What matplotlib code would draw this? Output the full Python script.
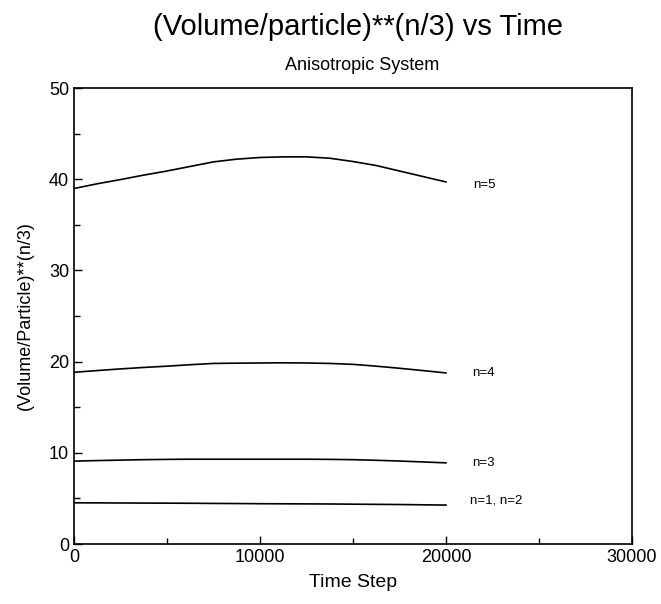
import matplotlib
matplotlib.use('Agg')
import matplotlib.pyplot as plt
import numpy as np

# Time steps sampled along each curve
time_steps = [0, 1250, 2500, 3750, 5000, 6250, 7500, 8750, 10000,
              11250, 12500, 13750, 15000, 16250, 17500, 18750, 20000]

# (Volume/particle)**(n/3)
vol_n5 = [38.98, 39.5, 39.96, 40.45, 40.9, 41.4, 41.9, 42.2, 42.38,
          42.45, 42.45, 42.3, 41.94, 41.5, 40.9, 40.3, 39.7]
vol_n4 = [18.83, 19.02, 19.2, 19.36, 19.5, 19.66, 19.8, 19.83, 19.85,
          19.87, 19.85, 19.8, 19.7, 19.5, 19.27, 19.02, 18.76]
vol_n3 = [9.09, 9.15, 9.2, 9.25, 9.28, 9.3, 9.3, 9.3, 9.3,
          9.3, 9.3, 9.28, 9.25, 9.18, 9.1, 9.0, 8.9]
vol_n12 = [4.52, 4.51, 4.5, 4.49, 4.48, 4.47, 4.45, 4.44, 4.42,
           4.41, 4.4, 4.39, 4.37, 4.35, 4.33, 4.3, 4.27]

curve_labels = ['n=5', 'n=4', 'n=3', 'n=1, n=2']
label_x = [21450, 21400, 21400, 21300]
label_y = [39.4, 18.75, 8.9, 4.8]

plt.rcParams['font.family'] = ['Liberation Sans', 'DejaVu Sans']

fig = plt.figure(figsize=(6.61, 6.04), dpi=100)
ax = fig.add_axes([0.112, 0.0993, 0.844, 0.755])

for vals in [vol_n5, vol_n4, vol_n3, vol_n12]:
    ax.plot(time_steps, vals, color='black', linewidth=1.2)

for lbl, lx, ly in zip(curve_labels, label_x, label_y):
    ax.text(lx, ly, lbl, fontsize=9.5, va='center', ha='left')

ax.set_xlim(0, 30000)
ax.set_ylim(0, 50)
ax.set_xticks([0, 10000, 20000, 30000])
ax.set_xticks([5000, 15000, 25000], minor=True)
ax.set_yticks([0, 10, 20, 30, 40, 50])
ax.set_yticks([5, 15, 25, 35, 45], minor=True)
ax.tick_params(direction='in', length=6, width=1, labelsize=13)
ax.tick_params(which='minor', direction='in', length=4, width=1)
for s in ax.spines.values():
    s.set_linewidth(1.2)

ax.set_xlabel('Time Step', fontsize=14, labelpad=6)
ax.set_ylabel('(Volume/Particle)**(n/3)', fontsize=13, labelpad=11)

# titles placed by figure fraction
fig.text(0.542, 0.955, '(Volume/particle)**(n/3) vs Time', fontsize=21,
         ha='center', va='center')
fig.text(0.548, 0.891, 'Anisotropic System', fontsize=13, ha='center', va='center')

fig.savefig('out.png', dpi=100)
